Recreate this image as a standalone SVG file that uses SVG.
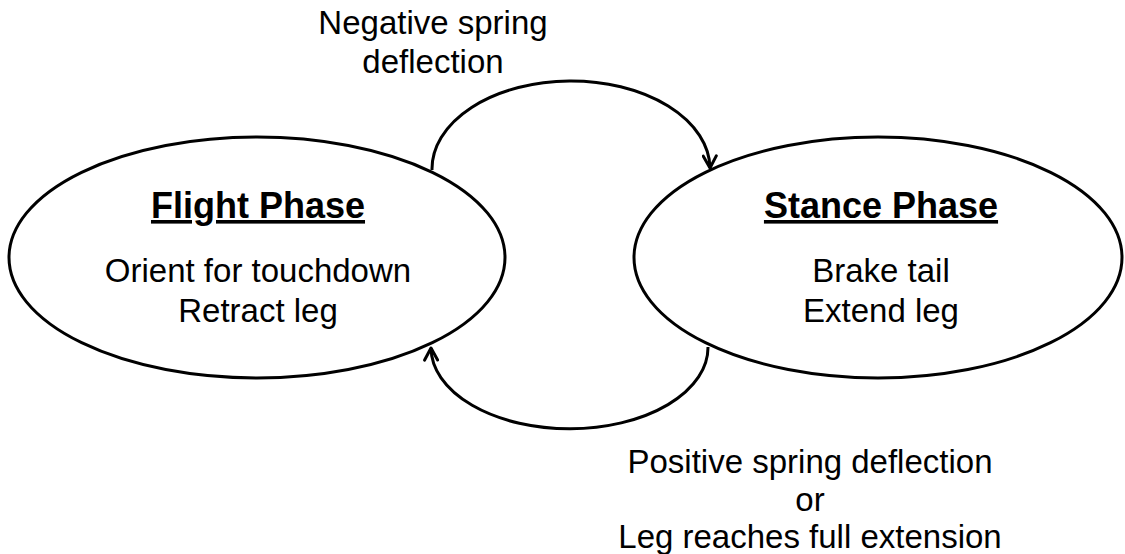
<svg xmlns="http://www.w3.org/2000/svg" width="1125" height="554" viewBox="0 0 1125 554">
<style>
.node{fill:#fff;stroke:#000;stroke-width:3}
.edge{fill:none;stroke:#000;stroke-width:3}
text{font-family:"Liberation Sans",Arial,sans-serif;fill:#000;text-anchor:middle}
.title{font-size:36px;font-weight:bold;text-decoration:underline}
.body{font-size:33px}
</style>
<defs>
<marker id="arr" markerUnits="userSpaceOnUse" viewBox="-14 -8 16 16" markerWidth="16" markerHeight="16" refX="0" refY="0" orient="auto">
<path d="M-12,-6.5 L0,0 L-12,6.5" fill="none" stroke="#000" stroke-width="3" stroke-linecap="round" stroke-linejoin="round"/>
</marker>
</defs>
<rect width="1125" height="554" fill="#fff"/>
<g id="flight">
<ellipse class="node" cx="257" cy="257.5" rx="248" ry="120.5"/>
<text class="title" x="258" y="218">Flight Phase</text>
<text class="body" x="258" y="282">Orient for touchdown</text>
<text class="body" x="258" y="322">Retract leg</text>
</g>
<g id="stance">
<ellipse class="node" cx="878" cy="257.5" rx="244" ry="120.5"/>
<text class="title" x="881" y="218">Stance Phase</text>
<text class="body" x="881" y="282">Brake tail</text>
<text class="body" x="881" y="322">Extend leg</text>
</g>
<g id="connectors">
<path class="edge" d="M432,170 A139,88 0 0 1 710,168" marker-end="url(#arr)"/>
<path class="edge" d="M708,347 A138,81 0 0 1 431,348" marker-end="url(#arr)"/>
<text class="body" x="433" y="34">Negative spring</text>
<text class="body" x="433" y="73">deflection</text>
<text class="body" x="810" y="473">Positive spring deflection</text>
<text class="body" x="810" y="511">or</text>
<text class="body" x="810" y="548">Leg reaches full extension</text>
</g>
</svg>
